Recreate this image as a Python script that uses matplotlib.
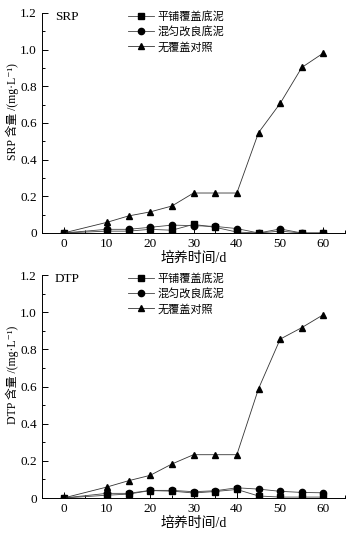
import matplotlib.pyplot as plt
from matplotlib.ticker import MultipleLocator

plt.rcParams['font.family'] = ['Liberation Serif', 'Noto Sans CJK SC', 'DejaVu Sans']

days = [0, 10, 15, 20, 25, 30, 35, 40, 45, 50, 55, 60]
labels = ['平铺覆盖底泥', '混匀改良底泥', '无覆盖对照']

srp_flat = [0, 0.01, 0.01, 0.02, 0.015, 0.047, 0.031, 0.005, 0, 0.01, 0, 0]
srp_mix = [0, 0.02, 0.02, 0.031, 0.043, 0.04, 0.036, 0.024, 0, 0.022, 0, 0]
srp_ctrl = [0, 0.058, 0.093, 0.115, 0.147, 0.218, 0.218, 0.218, 0.547, 0.707, 0.903, 0.982]

dtp_flat = [0, 0.015, 0.021, 0.04, 0.037, 0.027, 0.035, 0.046, 0.011, 0.005, 0.005, 0.005]
dtp_mix = [0, 0.025, 0.025, 0.041, 0.041, 0.034, 0.039, 0.055, 0.048, 0.036, 0.03, 0.028]
dtp_ctrl = [0, 0.059, 0.093, 0.122, 0.183, 0.233, 0.233, 0.233, 0.588, 0.855, 0.917, 0.987]

fig = plt.figure(figsize=(3.49, 5.34), dpi=100)
ax1 = fig.add_axes([0.120, 0.5637, 0.869, 0.412])
ax2 = fig.add_axes([0.120, 0.0674, 0.869, 0.4176])


def draw(ax, flat, mix, ctrl, name):
    ax.plot(days, flat, color='#444444', lw=0.6, marker='s', ms=4.5, mfc='black', mec='black', label=labels[0])
    ax.plot(days, mix, color='#444444', lw=0.6, marker='o', ms=4.5, mfc='black', mec='black', label=labels[1])
    ax.plot(days, ctrl, color='#333333', lw=0.6, marker='^', ms=5, mfc='black', mec='black', label=labels[2])
    ax.set_xlim(-5, 65)
    ax.set_ylim(0, 1.2)
    ax.xaxis.set_minor_locator(MultipleLocator(5))
    ax.yaxis.set_minor_locator(MultipleLocator(0.1))
    ax.set_xticks([0, 10, 20, 30, 40, 50, 60])
    ax.set_xticklabels(['0', '10', '20', '30', '40', '50', '60'])
    ax.set_yticks([0, 0.2, 0.4, 0.6, 0.8, 1.0, 1.2])
    ax.set_yticklabels(['0', '0.2', '0.4', '0.6', '0.8', '1.0', '1.2'])
    ax.tick_params(which='both', direction='in', labelsize=9.5, width=0.7)
    ax.tick_params(which='major', length=4)
    ax.tick_params(which='minor', length=2.5)
    for s in ['top', 'right']:
        ax.spines[s].set_visible(False)
    for s in ['left', 'bottom']:
        ax.spines[s].set_linewidth(0.7)
    ax.text(0.043, 1.01, name, transform=ax.transAxes, fontsize=9.5, va='top')
    ax.set_xlabel('培养时间/d', fontsize=10, labelpad=1)
    ax.set_ylabel(name + ' 含量 /(mg·L⁻¹)', fontsize=8.5)
    ax.yaxis.set_label_coords(-0.075, 0.55)
    ax.legend(loc='upper left', bbox_to_anchor=(0.27, 1.03), frameon=False, fontsize=8,
              handlelength=2.3, handletextpad=0.3, labelspacing=0.4, borderaxespad=0)


draw(ax1, srp_flat, srp_mix, srp_ctrl, 'SRP')
draw(ax2, dtp_flat, dtp_mix, dtp_ctrl, 'DTP')

fig.savefig('out.png', dpi=100)
